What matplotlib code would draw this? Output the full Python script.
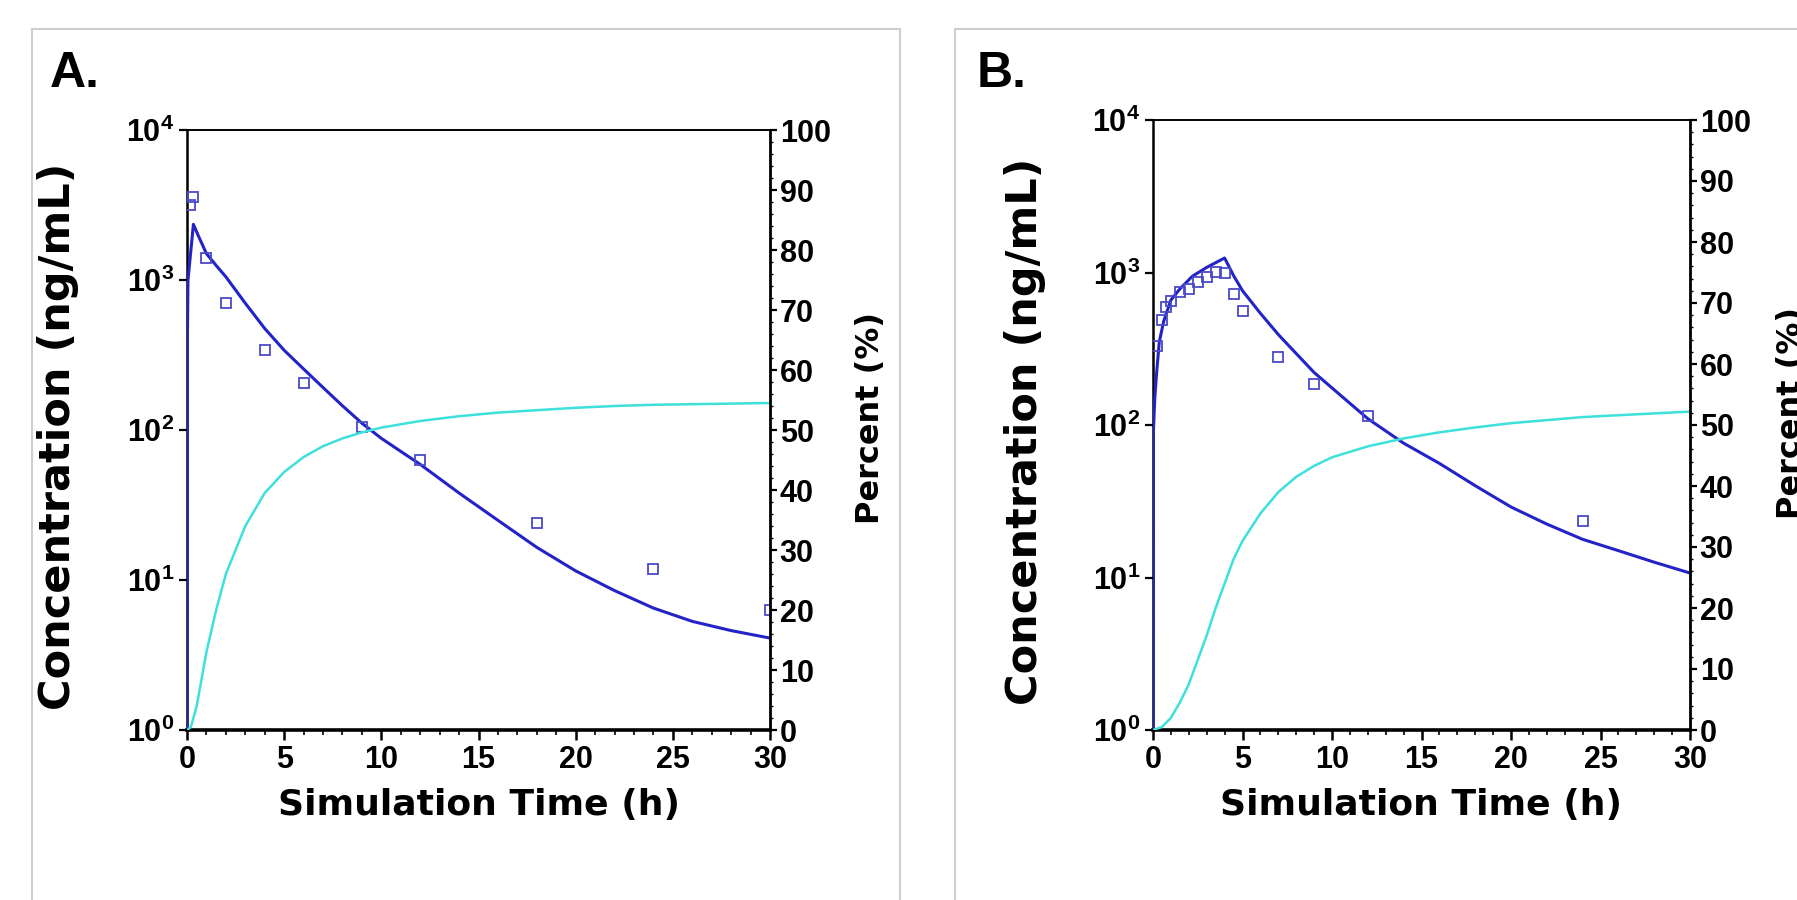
import matplotlib
matplotlib.use("Agg")
import matplotlib.pyplot as plt
import numpy as np
from matplotlib.patches import Rectangle
from matplotlib.ticker import FixedLocator, FuncFormatter, MultipleLocator, NullLocator

plt.rcParams['font.family'] = ['Liberation Sans', 'DejaVu Sans']
plt.rcParams['mathtext.fontset'] = 'custom'
plt.rcParams['mathtext.rm'] = 'Liberation Sans'
plt.rcParams['mathtext.bf'] = 'Liberation Sans:bold'

# --- panel A: simulated concentration, observed concentration, percent curve ---
a_sim_t = [0, 0.02, 0.05, 0.33, 0.6, 1, 1.5, 2, 3, 4, 5, 6, 7, 8, 9, 10, 11, 12,
           14, 16, 18, 20, 22, 24, 26, 28, 30]
a_sim_c = [1, 400, 1000, 2350, 1950, 1500, 1250, 1050, 700, 475, 340, 255, 192, 145,
           111, 88, 72, 59, 38, 25, 16.5, 11.5, 8.5, 6.5, 5.3, 4.6, 4.1]
a_obs_t = [0.15, 0.3, 1, 2, 4, 6, 9, 12, 18, 24, 30]
a_obs_c = [3150, 3600, 1400, 700, 340, 205, 104, 63, 24, 11.8, 6.3]
a_pct_t = [0, 0.2, 0.5, 1, 1.5, 2, 3, 4, 5, 6, 7, 8, 9, 10, 12, 14, 16, 18, 20, 22,
           24, 26, 28, 30]
a_pct_v = [0, 0.5, 4, 13, 20, 26, 34, 39.5, 43, 45.5, 47.3, 48.6, 49.6, 50.4, 51.5,
           52.3, 52.9, 53.3, 53.7, 54.0, 54.2, 54.3, 54.4, 54.5]

# --- panel B ---
b_sim_t = [0, 0.02, 0.1, 0.2, 0.35, 0.6, 1.0, 1.5, 2.2, 3.0, 4.0, 4.5, 5, 6, 7, 8, 9,
           10, 12, 14, 16, 18, 20, 22, 24, 26, 28, 30]
b_sim_c = [1, 90, 150, 218, 350, 480, 660, 780, 945, 1080, 1245, 955, 760, 540, 392,
           294, 221, 175, 110, 76, 56, 40, 29, 22.4, 17.8, 15, 12.6, 10.7]
b_obs_t = [0.25, 0.5, 0.75, 1.0, 1.5, 2.0, 2.5, 3.0, 3.5, 4.0, 4.5, 5.0, 7, 9, 12, 24]
b_obs_c = [330, 490, 590, 650, 740, 780, 870, 940, 1010, 1000, 720, 555, 280, 185,
           115, 23.6]
b_pct_t = [0, 0.5, 1, 1.5, 2, 2.5, 3, 3.5, 4, 4.5, 5, 6, 7, 8, 9, 10, 12, 14, 16, 18,
           20, 22, 24, 26, 28, 30]
b_pct_v = [0, 0.5, 2, 4.5, 7.5, 11.5, 15.5, 20, 24, 28, 31, 35.5, 39, 41.5, 43.3,
           44.7, 46.5, 47.8, 48.8, 49.6, 50.3, 50.8, 51.3, 51.6, 51.9, 52.2]

decades = [1, 10, 100, 1000, 10000]

BLUE = '#2323c8'
MARK = '#4a4ac8'
CYAN = '#3ee0dc'
TICK_FONT = dict(family='Liberation Sans', weight='bold', size=22)


def draw_panel(fig, rect, sim_t, sim_c, obs_t, obs_c, pct_t, pct_v, ylab_x, pct_x, xlab_y):
    ax = fig.add_axes(rect)
    ax2 = ax.twinx()

    ax.plot(sim_t, sim_c, color=BLUE, lw=2.2, zorder=3)
    ax.plot(obs_t, obs_c, ls='none', marker='s', ms=7.5, mfc='none', mec=MARK,
            mew=1.3, zorder=4)
    ax2.plot(pct_t, pct_v, color=CYAN, lw=1.8)

    ax.set_yscale('log')
    ax.set_xlim(0, 30)
    ax.set_ylim(1, 10000)
    ax2.set_ylim(0, 100)

    ax.yaxis.set_major_locator(FixedLocator(decades))
    ax.yaxis.set_minor_locator(NullLocator())
    ax.yaxis.set_major_formatter(
        FuncFormatter(lambda v, p: r'$\mathbf{10^{%d}}$' % round(np.log10(v))))
    ax.xaxis.set_major_locator(MultipleLocator(5))
    ax.xaxis.set_minor_locator(MultipleLocator(1))
    ax2.yaxis.set_major_locator(MultipleLocator(10))
    ax2.yaxis.set_minor_locator(MultipleLocator(2))

    for s in ('top', 'right', 'left', 'bottom'):
        ax.spines[s].set_color('black')
        ax2.spines[s].set_color('black')
    ax.spines['bottom'].set_linewidth(2.6)
    ax.spines['left'].set_linewidth(1.8)
    ax.spines['top'].set_linewidth(1.2)
    ax2.spines['right'].set_linewidth(2.0)
    ax2.spines['top'].set_linewidth(1.2)
    ax2.spines['bottom'].set_visible(False)
    ax2.spines['left'].set_visible(False)

    ax.tick_params(axis='x', which='major', direction='out', length=7, width=1.8, pad=4)
    ax.tick_params(axis='x', which='minor', direction='out', length=3.5, width=1.2)
    ax.tick_params(axis='y', which='major', direction='out', length=6, width=1.6, pad=3)
    ax2.tick_params(axis='y', which='major', direction='out', length=5, width=1.6, pad=2)
    ax2.tick_params(axis='y', which='minor', direction='out', length=2.5, width=1.0)
    for lab in ax.get_xticklabels() + ax2.get_yticklabels():
        lab.set_fontproperties(TICK_FONT)
    for lab in ax.get_yticklabels():
        lab.set_fontsize(22)

    ax.set_xlabel('Simulation Time (h)', family='DejaVu Sans', weight='bold', size=26)
    ax.xaxis.set_label_coords(0.5, xlab_y)
    ax.set_ylabel('Concentration (ng/mL)', family='DejaVu Sans', weight='bold', size=31)
    ax.yaxis.set_label_coords(ylab_x, 0.49)
    ax2.set_ylabel('Percent (%)', family='DejaVu Sans', weight='bold', size=23)
    ax2.yaxis.set_label_coords(pct_x, 0.52)
    return ax, ax2


fig = plt.figure(figsize=(17.97, 9.0), dpi=100)

# light grey panel frames
fig.add_artist(Rectangle((32 / 1797, -0.05), (900 - 32) / 1797, (1 + 0.05) - 29 / 900,
                         transform=fig.transFigure, fill=False, ec='#cfcfcf', lw=1.5))
fig.add_artist(Rectangle((955 / 1797, -0.05), 0.5, (1 + 0.05) - 29 / 900,
                         transform=fig.transFigure, fill=False, ec='#cfcfcf', lw=1.5))

draw_panel(fig, [187 / 1797, 170 / 900, 583 / 1797, 600 / 900],
           a_sim_t, a_sim_c, a_obs_t, a_obs_c, a_pct_t, a_pct_v, -0.185, 1.145, -0.097)
draw_panel(fig, [1153 / 1797, 170 / 900, 537 / 1797, 610 / 900],
           b_sim_t, b_sim_c, b_obs_t, b_obs_c, b_pct_t, b_pct_v, -0.2, 1.16, -0.095)

fig.text(50 / 1797, 1 - 87 / 900, 'A.', family='Liberation Sans', weight='bold',
         size=36, va='baseline', ha='left')
fig.text(977 / 1797, 1 - 87 / 900, 'B.', family='Liberation Sans', weight='bold',
         size=36, va='baseline', ha='left')

fig.savefig('out.png', dpi=100)
